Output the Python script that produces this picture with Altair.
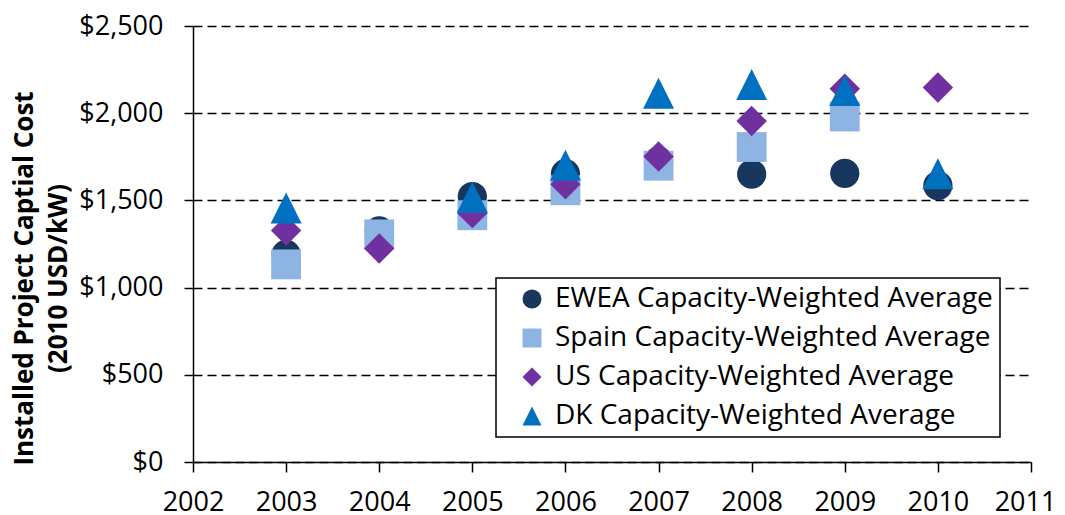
import altair as alt
import pandas as pd

years = [2003, 2004, 2005, 2006, 2007, 2008, 2009, 2010]
ewea = [1190, 1325, 1522, 1653, 1725, 1651, 1655, 1585]
spain = [1133, 1305, 1415, 1558, 1699, 1806, 1981, None]
us = [1327, 1224, 1427, 1593, 1752, 1955, 2140, 2147]
dk = [1456, None, 1518, 1701, 2114, 2164, 2130, 1653]

series_names = [
    "EWEA Capacity-Weighted Average",
    "Spain Capacity-Weighted Average",
    "US Capacity-Weighted Average",
    "DK Capacity-Weighted Average",
]
series_values = [ewea, spain, us, dk]
colors = ["#17375E", "#8EB4E3", "#7030A0", "#0070C0"]
shapes = ["circle", "square", "diamond", "M0,-1L1,1L-1,1Z"]
sizes = [855, 961, 1089, 1089]

x_ticks = list(range(2002, 2012))
y_ticks = [0, 500, 1000, 1500, 2000, 2500]

rows = []
for name, vals in zip(series_names, series_values):
    for yr, v in zip(years, vals):
        if v is not None:
            rows.append({"year": yr, "cost": v, "series": name, "marker": name})
df = pd.DataFrame(rows)
legend_df = pd.DataFrame({"series": series_names,
                          "year": [None] * 4, "cost": [None] * 4})

FONT = "Open Sans"

x_enc = alt.X("year:Q",
              scale=alt.Scale(domain=[2002, 2011], nice=False, zero=False),
              axis=alt.Axis(values=x_ticks, format="d", title=None, grid=False,
                            tickSize=10, labelPadding=17, labelFlush=False,
                            labelFontSize=27,
                            labelOffset={"condition": {"test": "datum.value == 2011", "value": -6},
                                         "value": 0}))
y_enc = alt.Y("cost:Q",
              scale=alt.Scale(domain=[0, 2500], nice=False),
              axis=alt.Axis(values=y_ticks, format="$,.0f",
                            title=["Installed Project Captial Cost", "(2010 USD/kW)"],
                            grid=True, gridDash=[9, 5], gridColor="black", gridWidth=1.5,
                            tickSize=9, labelPadding=21, labelFontSize=27,
                            titleFont=FONT, titleFontSize=26, titleFontWeight="bold",
                            titleAngle=270, titleX=-182, titleY=252,
                            titleAlign="center", titleBaseline="top",
                            titleLineHeight=34))
color_scale = alt.Scale(domain=series_names, range=colors)
shape_scale = alt.Scale(domain=series_names, range=shapes)
leg = alt.Legend(title=None, orient="none", legendX=303, legendY=252, symbolSize=360)

points = alt.Chart(df).mark_point(filled=True, opacity=1).encode(
    x=x_enc, y=y_enc,
    color=alt.Color("series:N", scale=color_scale, legend=None),
    shape=alt.Shape("series:N", scale=shape_scale, legend=None),
    size=alt.Size("marker:O",
                  scale=alt.Scale(domain=series_names, range=sizes),
                  legend=None),
)

legend_layer = alt.Chart(legend_df).mark_point(filled=True, opacity=1, size=360).encode(
    x=x_enc, y=y_enc,
    color=alt.Color("series:N", scale=color_scale, legend=leg),
    shape=alt.Shape("series:N", scale=shape_scale, legend=leg),
)

chart = alt.layer(points, legend_layer).resolve_legend(
    color="independent", shape="independent"
).properties(
    width=838, height=436,
    autosize=alt.AutoSizeParams(type="none"),
    padding={"left": 185, "top": 18, "right": 26, "bottom": 53},
).configure_view(
    stroke=None
).configure_axis(
    domainColor="black", domainWidth=1.5,
    tickColor="black", tickWidth=1.5,
    labelColor="black", labelFont=FONT,
    titleColor="black",
).configure_legend(
    strokeColor="black", strokeWidth=1.5, padding=7,
    labelFont=FONT, labelFontSize=28, labelColor="black", labelLimit=600,
    symbolSize=360, symbolStrokeWidth=0, rowPadding=11, labelOffset=9,
    symbolOffset=15, fillColor="white",
)

chart.save("out.html", embed_options={"renderer": "svg", "actions": False})
